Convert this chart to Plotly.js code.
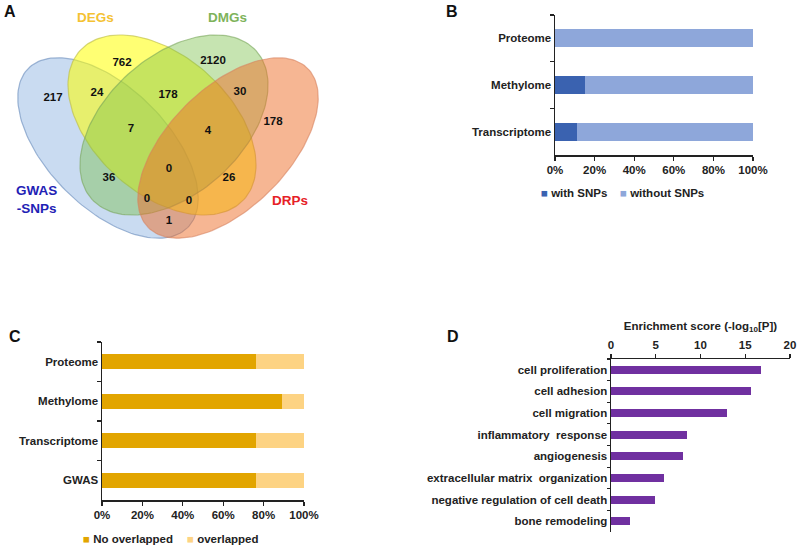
<!DOCTYPE html>
<html><head><meta charset="utf-8">
<script src="https://cdn.plot.ly/plotly-3.0.1.min.js"></script>
<style>html,body{margin:0;padding:0;background:#fff}#chart{width:800px;height:550px}</style>
</head><body><div id="chart"></div>
<script>
// ---------- DATA ----------
// Panel A (Venn): region counts
const vennRegions = ['GWAS only','DEGs only','GWAS∩DEGs','GWAS∩DEGs∩DMGs','DEGs∩DMGs','DMGs only','DMGs∩DRPs','DEGs∩DMGs∩DRPs','DRPs only','GWAS∩DMGs','all four','DEGs∩DRPs','GWAS∩DMGs∩DRPs','GWAS∩DEGs∩DRPs','GWAS∩DRPs'];
const vennCounts  = [217, 762, 24, 7, 178, 2120, 30, 4, 178, 36, 0, 26, 0, 0, 1];
const vennSetNames = ['GWAS<br>-SNPs', 'DEGs', 'DMGs', 'DRPs'];
// Panel B
const omicsB = ['Transcriptome', 'Methylome', 'Proteome'];
const withSNPs = [11, 15, 0];
const withoutSNPs = [89, 85, 100];
// Panel C
const omicsC = ['GWAS', 'Transcriptome', 'Methylome', 'Proteome'];
const noOverlapped = [76, 76, 89, 76];
const overlapped = [24, 24, 11, 24];
// Panel D
const goTerms = ['cell proliferation', 'cell adhesion', 'cell migration', 'inflammatory\u00a0 response', 'angiogenesis', 'extracellular matrix\u00a0 organization', 'negative regulation of cell death', 'bone remodeling'];
const enrichment = [16.8, 15.6, 13.0, 8.5, 8.0, 5.9, 4.95, 2.1];
// Tick labels
const pctVals = [0, 20, 40, 60, 80, 100];
const pctText = ['0%', '20%', '40%', '60%', '80%', '100%'];

// ---------- LAYOUT / STYLE ----------
const FONT = 'Arial, "Liberation Sans", sans-serif';
const FS = 11.5;
const W = 800, H = 550;
const px = x => x / W, py = y => 1 - y / H;

// Venn geometry (pixel space of panel A): [cx, cy, a, b, angle]
const vennShapes = [
  {g: [108, 148, 112.6, 60, 45], fill: 'rgba(120,165,220,0.40)', line: 'rgba(110,145,190,0.65)'},
  {g: [162, 125, 110.7, 68.5, 42.2], fill: 'rgba(255,255,0,0.55)', line: 'rgba(190,190,70,0.65)'},
  {g: [174, 125, 110.7, 68.5, 137.8], fill: 'rgba(120,190,70,0.42)', line: 'rgba(120,165,90,0.6)'},
  {g: [228, 148, 112.6, 60, 135], fill: 'rgba(238,110,40,0.50)', line: 'rgba(215,130,95,0.6)'}
];
const countPos = [[53,98],[122,63],[97,93],[131,129],[168,95],[213,61],[240,92],[208,131],[273,122],[109,178],[169,169],[229,178],[147,199],[189,201],[169,221]];
const setLabelPos = [[36,199],[95,17],[227,17],[290,200]];
const setLabelColors = ['#1f22b5', '#f4c233', '#7eb35b', '#e62026'];

function ellipse(cx, cy, a, b, deg) {
  const th = deg * Math.PI / 180, xs = [], ys = [];
  for (let i = 0; i <= 160; i++) {
    const t = 2 * Math.PI * i / 160;
    xs.push(cx + a * Math.cos(t) * Math.cos(th) - b * Math.sin(t) * Math.sin(th));
    ys.push(cy + a * Math.cos(t) * Math.sin(th) + b * Math.sin(t) * Math.cos(th));
  }
  return {xs, ys};
}

const traces = [];
vennShapes.forEach(s => {
  const e = ellipse(...s.g);
  traces.push({type: 'scatter', mode: 'lines', x: e.xs, y: e.ys, fill: 'toself',
    fillcolor: s.fill, line: {color: s.line, width: 1.2}, xaxis: 'x', yaxis: 'y',
    hoverinfo: 'skip', showlegend: false});
});
traces.push({type: 'scatter', mode: 'text', x: countPos.map(p => p[0]), y: countPos.map(p => p[1]),
  text: vennCounts.map(String), textposition: 'middle center',
  textfont: {family: FONT, size: 11.5, color: '#111', weight: 'bold'},
  xaxis: 'x', yaxis: 'y', showlegend: false, hovertext: vennRegions});

// Panel B
const colB = ['#3a62b0', '#8ea7da'];
traces.push({type: 'bar', orientation: 'h', y: omicsB, x: withSNPs, name: 'with SNPs',
  marker: {color: colB[0]}, width: 0.385, xaxis: 'x2', yaxis: 'y2', showlegend: false});
traces.push({type: 'bar', orientation: 'h', y: omicsB, x: withoutSNPs, name: 'without SNPs',
  marker: {color: colB[1]}, width: 0.385, xaxis: 'x2', yaxis: 'y2', showlegend: false});
// Panel C
const colC = ['#e2a500', '#fdd383'];
traces.push({type: 'bar', orientation: 'h', y: omicsC, x: noOverlapped, name: 'No overlapped',
  marker: {color: colC[0]}, width: 0.38, xaxis: 'x3', yaxis: 'y3', showlegend: false});
traces.push({type: 'bar', orientation: 'h', y: omicsC, x: overlapped, name: 'overlapped',
  marker: {color: colC[1]}, width: 0.38, xaxis: 'x3', yaxis: 'y3', showlegend: false});
// Panel D
traces.push({type: 'bar', orientation: 'h', y: goTerms, x: enrichment, name: 'Enrichment',
  marker: {color: '#7030a0'}, width: 0.37, xaxis: 'x4', yaxis: 'y4', showlegend: false});

const tickF = {family: FONT, size: FS, color: '#222', weight: 'bold'};
const baseAx = {showgrid: false, zeroline: false, showline: true, linecolor: '#222', linewidth: 1.5,
  ticks: 'outside', ticklen: 4, tickwidth: 1.2, tickcolor: '#222', tickfont: tickF, fixedrange: true};
const hidden = {visible: false, showgrid: false, zeroline: false, fixedrange: true};

function ann(x, y, text, size, color, xanchor) {
  return {xref: 'paper', yref: 'paper', x: px(x), y: py(y), text: text, showarrow: false,
    xanchor: xanchor || 'center', yanchor: 'middle',
    font: {family: FONT, size: size, color: color, weight: 'bold'}};
}
const annotations = [
  ann(10, 11, 'A', 16, '#111'), ann(452, 11, 'B', 16, '#111'),
  ann(15, 336, 'C', 16, '#111'), ann(453, 336, 'D', 16, '#111'),
  ann(539, 193, `<span style="color:${colB[0]}">■</span> with SNPs`, FS, '#222', 'left'),
  ann(618, 193, `<span style="color:${colB[1]}">■</span> without SNPs`, FS, '#222', 'left'),
  ann(81, 539, `<span style="color:${colC[0]}">■</span> No overlapped`, FS, '#222', 'left'),
  ann(185, 539, `<span style="color:${colC[1]}">■</span> overlapped`, FS, '#222', 'left')
];
vennSetNames.forEach((n, i) => {
  annotations.push({xref: 'x', yref: 'y', x: setLabelPos[i][0], y: setLabelPos[i][1], text: n,
    showarrow: false, font: {family: FONT, size: 13.5, color: setLabelColors[i], weight: 'bold'}});
});

const layout = {
  width: W, height: H, margin: {l: 0, r: 0, t: 0, b: 0},
  paper_bgcolor: '#fff', plot_bgcolor: 'rgba(0,0,0,0)',
  barmode: 'stack', showlegend: false, hovermode: false,
  font: {family: FONT, color: '#222'},
  annotations: annotations,
  xaxis: Object.assign({}, hidden, {domain: [0, 0.5], range: [0, 400]}),
  yaxis: Object.assign({}, hidden, {domain: [py(280), 1], range: [280, 0]}),
  xaxis2: Object.assign({}, baseAx, {domain: [px(555), px(753)], anchor: 'y2', range: [0, 100],
    tickvals: pctVals, ticktext: pctText}),
  yaxis2: Object.assign({}, baseAx, {domain: [py(155), py(15)], anchor: 'x2', type: 'category',
    categoryorder: 'array', categoryarray: omicsB, tickson: 'boundaries', range: [-0.5, 2.5]}),
  xaxis3: Object.assign({}, baseAx, {domain: [px(102), px(304)], anchor: 'y3', range: [0, 100],
    tickvals: pctVals, ticktext: pctText}),
  yaxis3: Object.assign({}, baseAx, {domain: [py(500), py(342)], anchor: 'x3', type: 'category',
    categoryorder: 'array', categoryarray: omicsC, tickson: 'boundaries', range: [-0.5, 3.5]}),
  xaxis4: Object.assign({}, baseAx, {domain: [px(611), px(790)], anchor: 'y4', side: 'top',
    range: [0, 20], tickvals: [0, 5, 10, 15, 20],
    title: {text: 'Enrichment score (-log<sub>10</sub>[P])', font: tickF, standoff: 6}}),
  yaxis4: Object.assign({}, baseAx, {domain: [py(532), py(359)], anchor: 'x4', type: 'category',
    categoryorder: 'array', categoryarray: goTerms, tickson: 'boundaries',
    range: [7.5, -0.5], ticklen: 3})
};

Plotly.newPlot('chart', traces, layout, {staticPlot: true, displayModeBar: false});
</script>
</body></html>
